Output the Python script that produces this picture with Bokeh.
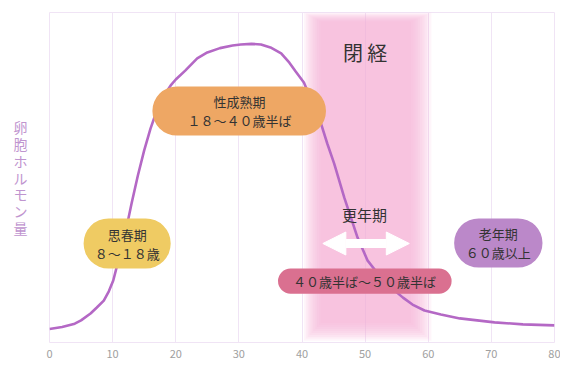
from bokeh.plotting import figure
from bokeh.models import BoxAnnotation, Label, Arrow, NormalHead, FixedTicker, Range1d
from bokeh.embed import file_html
from bokeh.resources import INLINE

# ---- data ----
ages = [0, 2, 4, 5, 6.5, 7.5, 8.6, 9.4, 10.1, 11, 12, 13, 14, 15, 16, 17, 18, 19.2,
        20, 21.5, 23.4, 25, 27, 29, 30.3, 32, 33.5, 35, 36.7, 38, 39, 40.3, 41.5,
        43, 44, 45.1, 46.7, 48.8, 50.4, 52, 54.1, 56, 57.5, 59.4, 62, 65, 70.5, 75, 80]
hormone = [4.1, 4.7, 5.7, 6.7, 8.8, 10.6, 12.7, 15.5, 18.8, 25.5, 33.0, 42.1, 50.6,
           58.2, 64.8, 70.3, 74.5, 77.9, 79.7, 82.4, 86.1, 87.9, 89.2, 90.0, 90.3,
           90.5, 90.3, 89.4, 87.6, 84.8, 82.1, 78.8, 73.3, 66.4, 60.3, 54.2, 43.9,
           31.8, 24.8, 20.9, 16.7, 13.6, 11.5, 9.7, 8.5, 7.3, 6.1, 5.5, 5.2]
x_ticks = [0, 10, 20, 30, 40, 50, 60, 70, 80]
phase_names = ["思春期", "性成熟期", "更年期", "老年期"]
phase_ages = ["８〜１８歳", "１８〜４０歳半ば", "４０歳半ば〜５０歳半ば", "６０歳以上"]
menopause_title = "閉 経"
y_title = "卵胞ホルモン量"
menopause_span = [40.3, 60.5]

FONT = "Noto Sans CJK JP"
TXT = "#333333"

p = figure(width=560, height=362, x_range=Range1d(0, 80), y_range=Range1d(0, 100),
           output_backend="svg", toolbar_location=None,
           min_border_left=49, min_border_right=6, min_border_top=12, min_border_bottom=20)

# y axis only carries the vertical title
p.yaxis.ticker = FixedTicker(ticks=[])
p.yaxis.axis_line_color = None
p.yaxis.major_tick_line_color = None
p.yaxis.minor_tick_line_color = None
p.yaxis.axis_label = "\n".join(y_title)
p.yaxis.axis_label_orientation = "horizontal"
p.yaxis.axis_label_text_font = FONT
p.yaxis.axis_label_text_font_size = "14px"
p.yaxis.axis_label_text_font_style = "normal"
p.yaxis.axis_label_text_color = "#bf95cf"
p.yaxis.axis_label_text_line_height = 0.84
p.yaxis.axis_label_standoff = 22

p.xaxis.ticker = FixedTicker(ticks=x_ticks)
p.xaxis.axis_line_color = None
p.xaxis.major_tick_line_color = None
p.xaxis.minor_tick_line_color = None
p.xaxis.major_label_text_color = "#a0a0a0"
p.xaxis.major_label_text_font_size = "11px"
p.xaxis.major_label_text_font = FONT
p.xaxis.major_label_standoff = 1
p.xgrid.grid_line_color = "#f0e4f5"
p.xgrid.ticker = FixedTicker(ticks=x_ticks)
p.ygrid.grid_line_color = None
p.outline_line_color = "#f0e4f5"

# ---- menopause band (soft gradient via stacked translucent layers) ----
n = 10
for i in range(n):
    p.quad(left=menopause_span[0] + i * 0.3, right=menopause_span[1] - i * 0.36,
           bottom=0.5 + i * 0.6, top=100 - i * 0.3,
           fill_color="#f8b0db", fill_alpha=0.13, line_color=None)

# ---- curve ----
p.line(ages, hormone, line_color="#b468c5", line_width=2.6, line_join="round")

# ---- double arrow ----
p.add_layout(Arrow(start=NormalHead(size=23, fill_color="white", line_color="white"),
                   end=NormalHead(size=23, fill_color="white", line_color="white"),
                   x_start=43.3, y_start=30, x_end=57.0, y_end=30,
                   line_color="white", line_width=9))

# ---- bubbles ----
def bubble(l, r, b, t, color, radius):
    p.add_layout(BoxAnnotation(left=l, right=r, bottom=b, top=t, fill_color=color,
                               fill_alpha=1.0, line_color=None, border_radius=radius))

def label(x, y, text, size, color=TXT, lh=1.0):
    p.add_layout(Label(x=x, y=y, text=text, text_align="center", text_baseline="middle",
                       text_font=FONT, text_font_size=size, text_color=color,
                       text_line_height=lh))

bubble(5.4, 19.2, 22.4, 37.6, "#efcb63", 25)
label(12.3, 30.0, phase_names[0] + "\n" + phase_ages[0], "13px")

bubble(16.3, 43.8, 62.7, 77.6, "#eea764", 25)
label(30.1, 70.2, phase_names[1] + "\n" + phase_ages[1], "13px")

bubble(36.2, 63.7, 14.8, 22.4, "#da7090", 13)
label(49.9, 18.6, phase_ages[2], "13px")

bubble(64.1, 78.1, 22.7, 37.6, "#bb88c9", 25)
label(71.1, 30.2, phase_names[3] + "\n" + phase_ages[3], "13px")

label(49.9, 38.8, phase_names[2], "15px")
label(50.0, 88.0, menopause_title, "20px")

open("out.html", "w").write(file_html(p, INLINE))
